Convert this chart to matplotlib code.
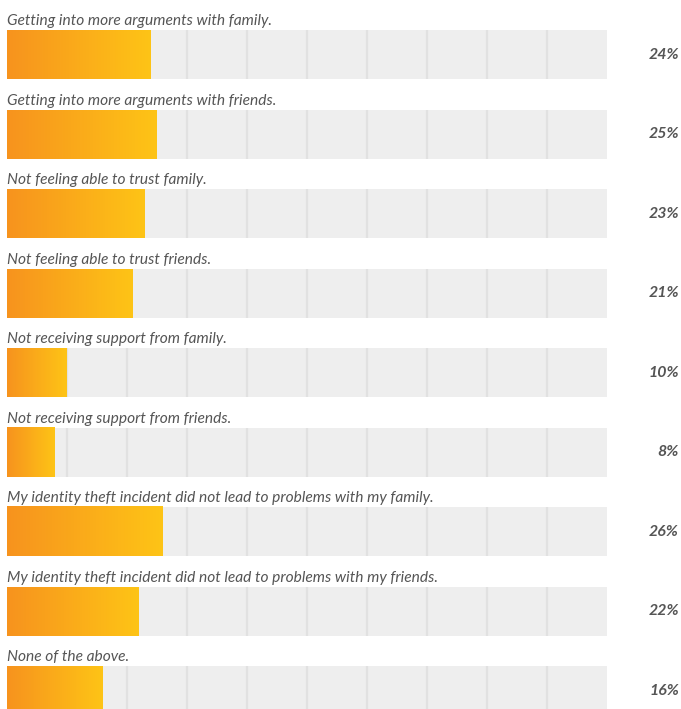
import numpy as np
import matplotlib
matplotlib.use("Agg")
import matplotlib.pyplot as plt
from matplotlib.colors import LinearSegmentedColormap

categories = [
    "Getting into more arguments with family.",
    "Getting into more arguments with friends.",
    "Not feeling able to trust family.",
    "Not feeling able to trust friends.",
    "Not receiving support from family.",
    "Not receiving support from friends.",
    "My identity theft incident did not lead to problems with my family.",
    "My identity theft incident did not lead to problems with my friends.",
    "None of the above.",
]
values = [24, 25, 23, 21, 10, 8, 26, 22, 16]
value_labels = ["24%", "25%", "23%", "21%", "10%", "8%", "26%", "22%", "16%"]
grid_ticks = [10, 20, 30, 40, 50, 60, 70, 80, 90]

W, H = 681, 709
fig = plt.figure(figsize=(W / 100, H / 100), dpi=100)
ax = fig.add_axes([7 / W, 0, 600 / W, 1])
ax.set_axis_off()

row_px = 79.5
bar_h = 49 / row_px
first_center = (30 + 24.5) / row_px
ytop = -first_center
ybot = H / row_px - first_center

cmap = LinearSegmentedColormap.from_list("og", ["#F7931E", "#FEC416"])
grad = np.linspace(0, 1, 256).reshape(1, -1)

ys = np.arange(len(categories))
# tracks
ax.barh(ys, [100] * len(ys), height=bar_h, color="#EEEEEE", zorder=1)
# grid lines within tracks
for y in ys:
    ax.vlines(grid_ticks, y - bar_h / 2, y + bar_h / 2, colors="#E1E1E1",
              linewidth=1.6, zorder=2)
# bars
bars = ax.barh(ys, values, height=bar_h, color="none", zorder=3)
for b in bars:
    x0, y0, w, h = b.get_x(), b.get_y(), b.get_width(), b.get_height()
    ax.imshow(grad, cmap=cmap, extent=[x0, x0 + w, y0 + h, y0],
              aspect="auto", zorder=3, interpolation="bilinear")

for y, cat, lab in zip(ys, categories, value_labels):
    ax.text(0, y - bar_h / 2 - 5 / row_px, cat, ha="left", va="baseline",
            fontsize=11.2, family="Lato", style="italic", color="#555555",
            zorder=4)
    ax.annotate(lab, xy=(679 / W, y), xycoords=("figure fraction", "data"),
                ha="right", va="center", fontsize=11.4, family="Lato",
                style="italic", weight="bold", color="#555555")

ax.set_xlim(0, 100)
ax.set_ylim(ybot, ytop)
fig.savefig("out.png", dpi=100)
